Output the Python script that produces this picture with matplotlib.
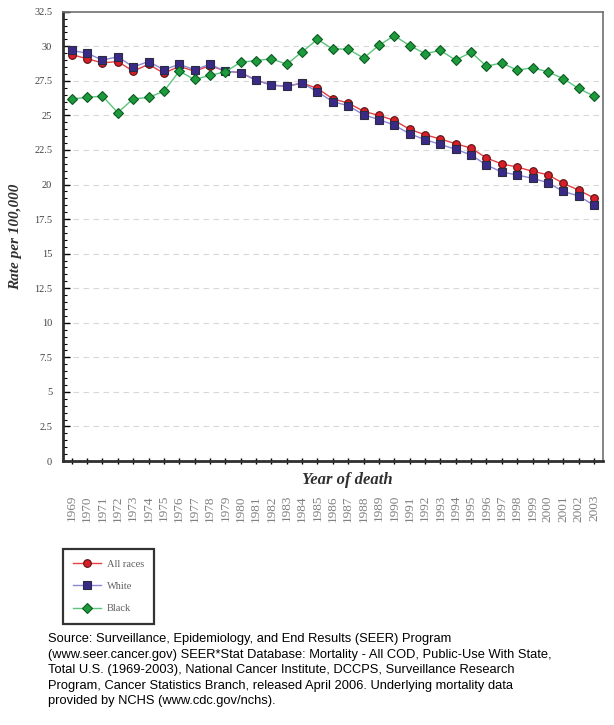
import numpy as np
import matplotlib.pyplot as plt

years = np.arange(1969, 2004)

all_races = [29.4, 29.1, 28.8, 28.9, 28.2, 28.7, 28.05, 28.55, 28.2, 28.6,
             28.2, 28.1, 27.55, 27.2, 27.1, 27.35, 26.95, 26.2, 25.9, 25.3,
             25.0, 24.64, 24.0, 23.6, 23.3, 22.95, 22.64, 21.92, 21.49, 21.27,
             20.96, 20.71, 20.09, 19.6, 19.03]
white = [29.7, 29.5, 29.0, 29.25, 28.5, 28.9, 28.3, 28.7, 28.3, 28.7,
         28.2, 28.1, 27.55, 27.2, 27.1, 27.35, 26.7, 26.0, 25.7, 25.05,
         24.7, 24.3, 23.67, 23.25, 22.9, 22.55, 22.14, 21.41, 20.91, 20.69,
         20.45, 20.14, 19.5, 19.18, 18.5]
black = [26.2, 26.3, 26.4, 25.2, 26.2, 26.3, 26.75, 28.2, 27.6, 27.9,
         28.15, 28.85, 28.97, 29.1, 28.7, 29.6, 30.5, 29.8, 29.8, 29.15,
         30.07, 30.77, 30.05, 29.47, 29.7, 29.0, 29.57, 28.56, 28.8, 28.27,
         28.46, 28.15, 27.67, 26.95, 26.4]

y_ticks = np.arange(0, 32.6, 2.5)
y_minor = np.arange(0, 32.6, 0.5)

source = ("Source: Surveillance, Epidemiology, and End Results (SEER) Program\n"
          "(www.seer.cancer.gov) SEER*Stat Database: Mortality - All COD, Public-Use With State,\n"
          "Total U.S. (1969-2003), National Cancer Institute, DCCPS, Surveillance Research\n"
          "Program, Cancer Statistics Branch, released April 2006. Underlying mortality data\n"
          "provided by NCHS (www.cdc.gov/nchs).")

serif = 'Liberation Serif'

fig = plt.figure(figsize=(6.14, 7.25), dpi=100)
ax = fig.add_axes([0.1031, 0.3641, 0.8785, 0.6197])

ax.plot(years, all_races, color='#e84040', lw=1, marker='o', ms=5.5,
        mfc='#d81e28', mec='#5a1010', mew=0.8, label='All races', zorder=3)
ax.plot(years, white, color='#8c88d8', lw=1, marker='s', ms=6,
        mfc='#3a2a88', mec='#2a2a40', mew=0.8, label='White', zorder=4)
ax.plot(years, black, color='#5cc47c', lw=1, marker='D', ms=5,
        mfc='#1c9a3c', mec='#0d5a22', mew=0.8, label='Black', zorder=5)

ax.set_xlim(1968.45, 2003.57)
ax.set_ylim(0, 32.5)
ax.set_yticks(y_ticks)
ax.set_yticks(y_minor, minor=True)
ax.set_yticklabels([('%g' % v) for v in y_ticks], family=serif,
                   fontsize=7.5, color='#404040')
ax.set_xticks(years)
ax.set_xticklabels([str(y) for y in years], rotation=90, family=serif,
                   fontsize=9.5, color='#808080', va='top')

ax.tick_params(axis='x', direction='inout', length=5, width=1, pad=22)
ax.tick_params(axis='y', which='major', direction='in', length=5, width=1, pad=8)
ax.tick_params(axis='y', which='minor', direction='in', length=3, width=0.8)

for v in y_ticks[1:-1]:
    ax.axhline(v, color='#d8d8d8', lw=0.8, ls=(0, (5, 4)), zorder=1)

ax.spines['left'].set_linewidth(2)
ax.spines['bottom'].set_linewidth(2)
ax.spines['left'].set_color('#303030')
ax.spines['bottom'].set_color('#303030')
ax.spines['top'].set_color('#707070')
ax.spines['right'].set_color('#707070')
ax.spines['top'].set_linewidth(1.2)
ax.spines['right'].set_linewidth(1.2)

ax.set_ylabel('Rate per 100,000', family=serif, fontsize=11, fontweight='bold',
              style='italic', color='#303030')
ax.yaxis.set_label_coords(-0.077, 0.5)
fig.text(347 / 614, 1 - 480 / 725, 'Year of death', family=serif, fontsize=12,
         fontweight='bold', style='italic', color='#303030', ha='center', va='center')

leg = ax.legend(loc='upper left', bbox_to_anchor=(63 / 614, 1 - 549 / 725),
                bbox_transform=fig.transFigure, frameon=True, fancybox=False,
                prop={'family': serif, 'size': 7.5}, labelcolor='#606060',
                handlelength=2.6, borderpad=1.0, labelspacing=1.25,
                handletextpad=0.6, borderaxespad=0)
leg.get_frame().set_edgecolor('black')
leg.get_frame().set_linewidth(1.6)

fig.text(48 / 614, 1 - 633 / 725, source, family='Liberation Sans', fontsize=9.3,
         color='black', ha='left', va='top', linespacing=1.4)

fig.savefig('out.png', dpi=100)
